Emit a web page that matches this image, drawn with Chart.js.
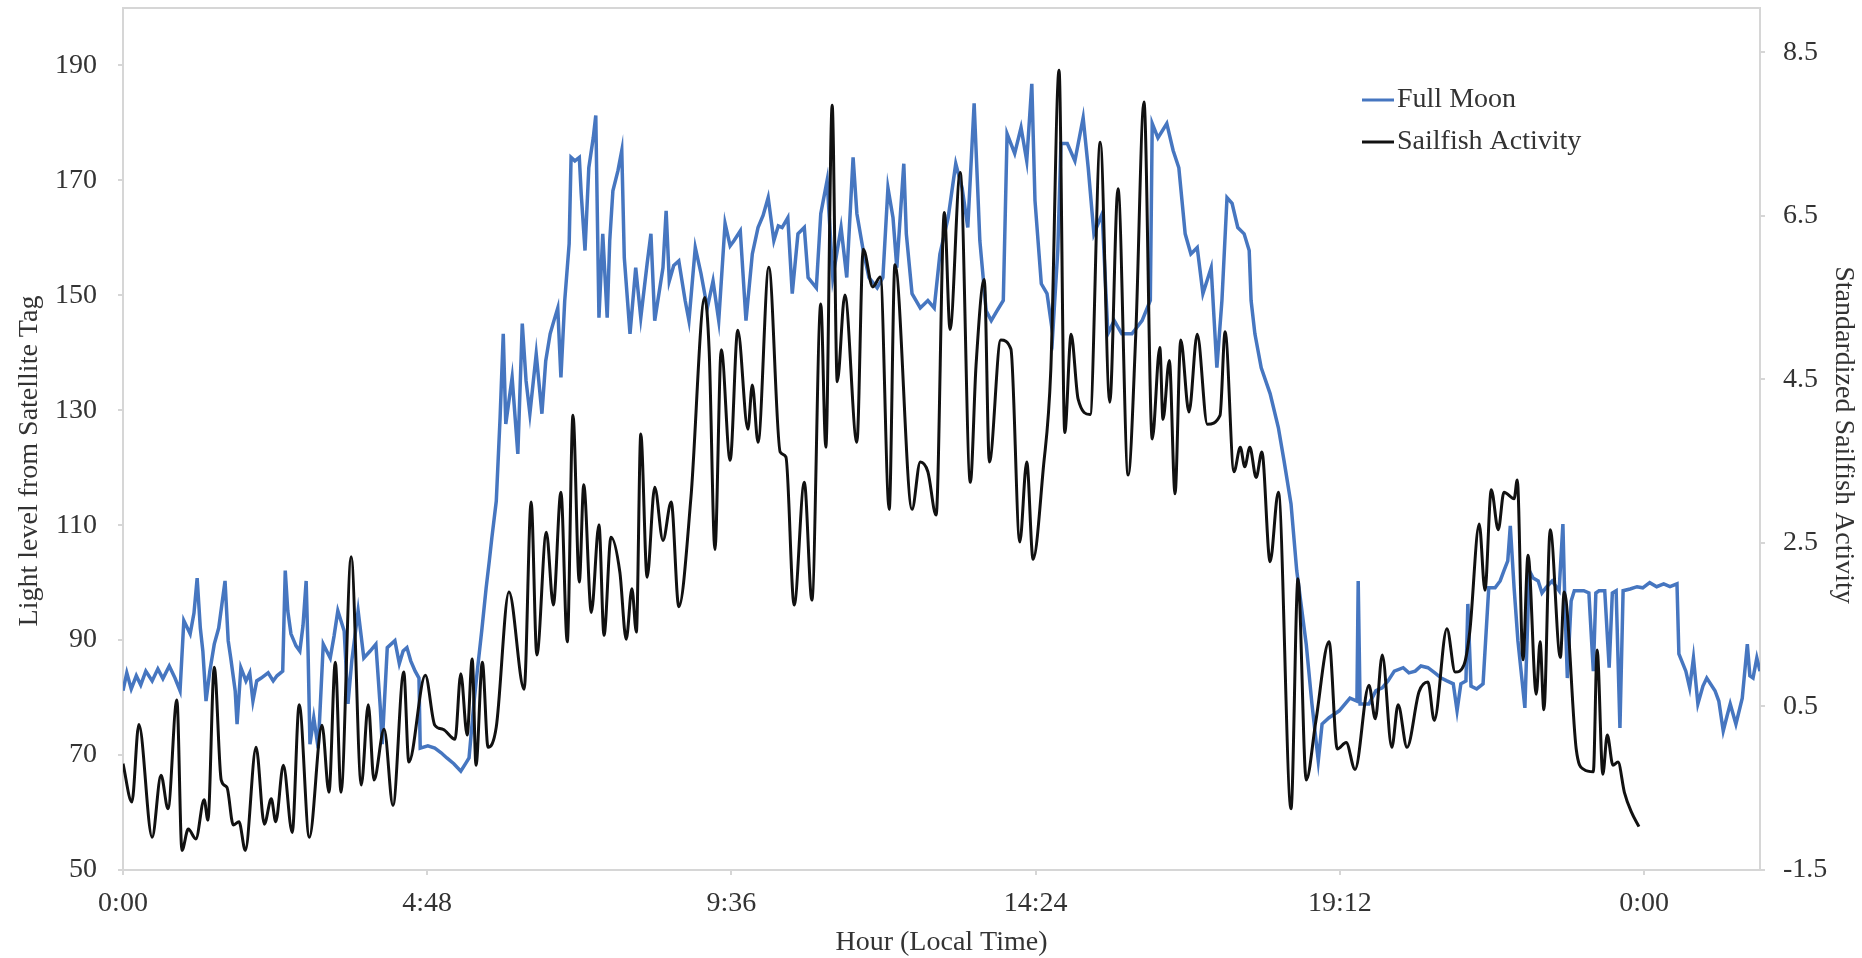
<!DOCTYPE html>
<html>
<head>
<meta charset="utf-8">
<title>Full Moon light level and sailfish activity</title>
<script src="https://cdn.jsdelivr.net/npm/chart.js@4.4.0/dist/chart.umd.min.js"></script>
<style>
  html, body { margin: 0; padding: 0; background: #fff; }
  #wrap { width: 1862px; height: 958px; position: relative; }
</style>
</head>
<body>
<div id="wrap"><canvas id="moonChart"></canvas></div>
<script>
// Full Moon: hours since midnight and light level from the satellite tag (left axis)
var moonHours = [
  0.00,0.06,0.13,0.21,0.28,0.36,0.46,0.55,0.63,0.73,
  0.82,0.90,0.96,1.06,1.12,1.17,1.22,1.26,1.31,1.37,
  1.44,1.51,1.61,1.66,1.70,1.77,1.80,1.86,1.94,2.00,
  2.05,2.11,2.18,2.29,2.37,2.43,2.52,2.56,2.60,2.65,
  2.73,2.79,2.84,2.89,2.92,2.95,3.01,3.08,3.16,3.27,
  3.33,3.39,3.49,3.55,3.61,3.71,3.80,3.90,3.99,4.06,
  4.09,4.17,4.29,4.36,4.42,4.48,4.54,4.61,4.67,4.69,
  4.81,4.92,5.02,5.11,5.22,5.33,5.41,5.46,5.54,5.59,
  5.66,5.73,5.78,5.82,5.89,5.95,6.00,6.04,6.14,6.23,
  6.30,6.36,6.42,6.52,6.61,6.67,6.74,6.80,6.86,6.91,
  6.97,7.04,7.07,7.13,7.20,7.23,7.29,7.35,7.42,7.46,
  7.51,7.57,7.64,7.68,7.73,7.81,7.87,7.91,8.00,8.09,
  8.17,8.27,8.33,8.39,8.52,8.57,8.62,8.69,8.77,8.87,
  8.93,9.03,9.12,9.22,9.31,9.40,9.50,9.58,9.64,9.74,
  9.83,9.93,10.02,10.10,10.18,10.27,10.34,10.40,10.49,10.56,
  10.65,10.75,10.81,10.94,11.01,11.11,11.20,11.33,11.42,11.52,
  11.58,11.68,11.77,11.90,11.99,12.07,12.15,12.21,12.32,12.36,
  12.45,12.58,12.70,12.80,12.89,13.02,13.14,13.24,13.33,13.43,
  13.52,13.62,13.70,13.79,13.89,13.95,14.07,14.17,14.26,14.34,
  14.39,14.49,14.58,14.67,14.75,14.80,14.90,15.02,15.15,15.23,
  15.32,15.45,15.54,15.64,15.76,15.92,16.08,16.21,16.24,16.33,
  16.47,16.57,16.66,16.76,16.85,16.95,17.04,17.17,17.26,17.34,
  17.42,17.50,17.59,17.69,17.77,17.80,17.86,17.96,18.10,18.23,
  18.32,18.43,18.52,18.67,18.76,18.86,18.92,19.03,19.19,19.36,
  19.47,19.49,19.52,19.66,19.77,19.87,19.96,20.06,20.20,20.29,
  20.39,20.48,20.59,20.70,20.80,20.89,20.99,21.05,21.11,21.19,
  21.22,21.27,21.36,21.46,21.55,21.65,21.73,21.79,21.85,21.89,
  21.95,22.01,22.06,22.12,22.19,22.25,22.33,22.39,22.45,22.55,
  22.66,22.72,22.75,22.79,22.85,22.90,23.05,23.13,23.20,23.24,
  23.29,23.38,23.45,23.50,23.56,23.62,23.67,23.78,23.89,23.98,
  24.09,24.20,24.31,24.41,24.52,24.55,24.66,24.72,24.78,24.85,
  24.93,24.99,25.12,25.18,25.25,25.31,25.36,25.45,25.55,25.63,
  25.67,25.72,25.78,25.83
];
var moonLight = [
  81.2,84.3,81.5,83.8,82.2,84.6,82.9,85.0,83.3,85.5,
  83.4,81.2,93.4,91.1,94.7,100.8,92.1,88.1,79.4,84.6,
  89.3,92.1,100.3,89.9,86.9,81.2,75.4,85.2,82.9,84.3,
  79.4,82.9,83.4,84.3,82.9,83.8,84.6,102.1,95.1,91.1,
  89.0,88.1,92.5,100.3,88.1,71.9,76.5,71.2,89.3,86.9,
  90.7,95.1,91.6,78.9,86.4,95.1,86.9,88.1,89.3,78.2,
  71.9,88.7,89.9,85.9,88.1,88.7,86.4,84.6,83.4,71.2,
  71.6,71.2,70.4,69.5,68.5,67.2,68.6,69.5,79.4,84.6,
  91.6,99.1,103.8,107.8,114.2,128.7,143.3,127.6,135.7,122.4,
  145.1,135.1,129.4,139.8,129.4,138.6,143.3,145.6,147.8,135.7,
  149.1,159.0,174.0,173.4,174.0,167.7,157.8,172.2,177.4,181.3,
  146.1,160.7,146.1,159.5,168.2,171.7,175.2,156.5,143.3,154.8,
  146.1,155.5,160.7,145.6,154.8,164.7,152.5,155.2,156.0,149.1,
  145.6,158.3,153.8,147.8,152.5,145.6,162.5,158.6,159.5,161.2,
  145.6,157.2,161.8,163.9,167.0,159.5,162.1,161.8,163.5,150.3,
  160.7,161.8,153.1,151.3,164.2,170.0,153.1,161.8,153.1,174.0,
  164.2,157.8,153.1,151.3,153.1,168.7,163.5,154.8,172.9,160.7,
  150.3,147.8,149.1,147.8,157.2,163.5,172.9,168.7,161.8,183.4,
  159.5,147.3,145.6,147.3,149.1,178.1,174.7,179.2,173.4,186.8,
  166.5,152.0,150.3,143.3,157.8,176.4,176.4,173.4,180.9,172.2,
  160.7,164.2,143.3,145.6,143.3,143.3,145.6,149.1,179.9,177.4,
  179.9,175.2,172.2,160.7,157.2,158.3,150.3,154.8,137.4,149.1,
  167.0,166.0,161.8,160.7,157.8,149.1,143.3,137.4,132.9,127.0,
  121.2,113.7,102.1,89.3,78.9,69.0,75.4,76.5,77.7,79.9,
  79.4,100.3,78.9,78.9,81.2,81.7,82.9,84.6,85.2,84.3,
  84.6,85.5,85.2,84.3,83.4,82.9,82.4,77.7,82.4,82.9,
  96.3,82.0,81.5,82.4,99.1,99.1,100.3,102.1,103.8,109.9,
  99.1,89.9,84.6,78.2,102.1,100.8,100.3,98.2,99.1,100.3,
  98.6,110.2,96.8,83.4,96.8,98.6,98.6,98.2,84.6,98.2,
  98.6,98.6,85.2,98.2,98.6,74.7,98.6,98.9,99.3,99.1,
  100.0,99.3,99.8,99.3,99.8,87.6,84.6,81.7,86.9,78.9,
  82.0,83.4,81.2,79.4,74.2,76.8,78.9,75.4,79.9,89.3,
  83.8,83.4,86.9,84.6
];

// Sailfish: hours since midnight and standardized activity (right axis)
var fishHours = [
  0.00,0.14,0.25,0.46,0.60,0.71,0.85,0.93,1.03,1.15,
  1.28,1.34,1.44,1.55,1.64,1.74,1.83,1.93,2.10,2.23,
  2.34,2.41,2.53,2.67,2.78,2.94,3.14,3.25,3.35,3.44,
  3.60,3.76,3.87,3.96,4.12,4.26,4.43,4.51,4.77,4.92,
  5.05,5.24,5.33,5.43,5.51,5.57,5.67,5.76,5.89,6.09,
  6.33,6.44,6.53,6.68,6.79,6.91,7.01,7.10,7.20,7.27,
  7.39,7.51,7.59,7.70,7.84,7.94,8.03,8.10,8.17,8.27,
  8.39,8.52,8.65,8.77,8.96,9.18,9.25,9.34,9.44,9.58,
  9.70,9.86,9.93,10.02,10.19,10.37,10.46,10.59,10.75,10.87,
  11.01,11.09,11.19,11.27,11.39,11.58,11.68,11.83,11.95,12.09,
  12.18,12.45,12.58,12.70,12.83,12.96,13.05,13.21,13.37,13.46,
  13.59,13.67,13.85,14.01,14.15,14.26,14.36,14.52,14.64,14.77,
  14.86,14.96,15.07,15.26,15.42,15.57,15.70,15.86,15.98,16.11,
  16.24,16.36,16.41,16.51,16.60,16.69,16.82,16.95,17.11,17.31,
  17.39,17.53,17.63,17.70,17.78,17.88,17.97,18.10,18.23,18.43,
  18.54,18.67,18.82,19.03,19.16,19.30,19.44,19.66,19.76,19.87,
  20.02,20.12,20.26,20.45,20.59,20.69,20.89,21.02,21.16,21.25,
  21.40,21.49,21.59,21.70,21.79,21.95,22.00,22.09,22.17,22.30,
  22.36,22.42,22.52,22.68,22.74,22.93,23.05,23.20,23.26,23.35,
  23.42,23.51,23.59,23.69,23.80,23.92
];
var fishActivity = [
  -0.20,-0.67,0.28,-1.10,-0.34,-0.75,0.58,-1.26,-1.00,-1.12,
  -0.64,-0.89,0.98,-0.40,-0.49,-0.95,-0.91,-1.26,0.00,-0.94,
  -0.63,-0.91,-0.22,-1.04,0.52,-1.10,0.27,-0.55,1.04,-0.55,
  2.33,-0.46,0.52,-0.40,0.22,-0.71,0.92,-0.18,0.88,0.27,
  0.22,0.10,0.90,0.15,1.08,-0.22,1.04,0.00,0.25,1.90,
  0.71,3.00,1.13,2.63,1.74,3.12,1.29,4.06,2.02,3.21,
  1.65,2.72,1.37,2.57,2.14,1.32,1.94,1.41,3.83,2.08,
  3.18,2.53,3.00,1.72,3.04,5.50,4.83,2.42,4.86,3.51,
  5.10,3.89,4.43,3.73,5.87,3.61,3.55,1.74,3.24,1.80,
  5.42,3.67,7.85,4.47,5.53,3.73,6.09,5.63,5.75,2.91,
  5.90,2.91,3.49,3.37,2.84,6.54,5.11,7.03,3.24,4.67,
  5.72,3.49,4.98,4.87,2.51,3.49,2.30,3.40,4.62,8.28,
  3.85,5.05,4.26,4.07,7.40,4.22,6.83,3.33,5.04,7.89,
  3.77,4.89,4.01,4.73,3.10,4.98,4.10,5.05,3.95,4.06,
  5.08,3.37,3.67,3.43,3.67,3.30,3.61,2.27,3.12,-0.75,
  2.06,-0.40,0.31,1.29,-0.02,0.06,-0.27,0.76,0.35,1.13,
  0.00,0.52,0.00,0.68,0.80,0.33,1.45,0.92,1.01,1.41,
  2.73,1.92,3.15,2.66,3.12,3.04,3.27,1.07,2.35,0.65,
  1.29,0.46,2.66,1.10,1.90,-0.02,-0.27,-0.30,1.19,-0.33,
  0.15,-0.22,-0.18,-0.55,-0.79,-0.97
];

// axis ticks
var hourTicks = [0, 4.8, 9.6, 14.4, 19.2, 24];
var hourLabels = ['0:00', '4:48', '9:36', '14:24', '19:12', '0:00'];
var lightTicks = [50, 70, 90, 110, 130, 150, 170, 190];
var activityTicks = [-1.5, 0.5, 2.5, 4.5, 6.5, 8.5];

var seriesNames = ['Full Moon', 'Sailfish Activity'];
var seriesColors = ['#4676c0', '#111111'];

var textColor = '#333333';
var axisColor = '#d6d6d6';
var serif = "'Liberation Serif', 'Times New Roman', serif";
var tickFont = { family: serif, size: 28 };

function toPoints(xs, ys) {
  return xs.map(function(x, i) { return { x: x, y: ys[i] }; });
}

function setTicks(list) {
  return function(scale) {
    scale.ticks = list.map(function(v) { return { value: v }; });
  };
}

// axis titles, legend and the top frame line
var chartExtras = {
  id: 'chartExtras',
  afterDraw: function(chart) {
    var ctx = chart.ctx;
    var area = chart.chartArea;
    ctx.save();

    ctx.strokeStyle = axisColor;
    ctx.lineWidth = 2;
    ctx.beginPath();
    ctx.moveTo(area.left, area.top);
    ctx.lineTo(area.right, area.top);
    ctx.stroke();

    ctx.fillStyle = textColor;
    ctx.font = '28px ' + serif;
    ctx.textAlign = 'center';
    ctx.textBaseline = 'middle';

    ctx.fillText('Hour (Local Time)', (area.left + area.right) / 2, 943);

    ctx.save();
    ctx.translate(30, 461);
    ctx.rotate(-Math.PI / 2);
    ctx.fillText('Light level from Satellite Tag', 0, 0);
    ctx.restore();

    ctx.save();
    ctx.translate(1843, 435);
    ctx.rotate(Math.PI / 2);
    ctx.fillText('Standardized Sailfish Activity', 0, 0);
    ctx.restore();

    // legend
    ctx.textAlign = 'left';
    var lx = 1362, ly = 100;
    seriesNames.forEach(function(name, i) {
      var y = ly + i * 42;
      ctx.strokeStyle = seriesColors[i];
      ctx.lineWidth = 3;
      ctx.beginPath();
      ctx.moveTo(lx, y);
      ctx.lineTo(lx + 32, y);
      ctx.stroke();
      ctx.fillStyle = textColor;
      ctx.fillText(name, lx + 35, y);
    });

    ctx.restore();
  }
};

var ctx = document.getElementById('moonChart').getContext('2d');
var chart = new Chart(ctx, {
  type: 'line',
  data: {
    datasets: [{
      label: seriesNames[0],
      data: toPoints(moonHours, moonLight),
      yAxisID: 'y',
      borderColor: seriesColors[0],
      borderWidth: 3.5,
      pointRadius: 0,
      tension: 0,
      order: 1
    }, {
      label: seriesNames[1],
      data: toPoints(fishHours, fishActivity),
      yAxisID: 'y1',
      borderColor: seriesColors[1],
      borderWidth: 3,
      pointRadius: 0,
      cubicInterpolationMode: 'monotone',
      order: 0
    }]
  },
  options: {
    responsive: true,
    maintainAspectRatio: false,
    animation: false,
    layout: { padding: { top: 8, left: 0, right: 0, bottom: 0 } },
    plugins: {
      legend: { display: false },
      tooltip: { enabled: false }
    },
    scales: {
      x: {
        type: 'linear',
        min: 0,
        max: 25.83,
        afterBuildTicks: setTicks(hourTicks),
        afterFit: function(s) { s.height = 88; s.paddingLeft = 0; s.paddingRight = 0; },
        ticks: {
          autoSkip: false,
          maxRotation: 0,
          padding: 12,
          color: textColor,
          font: tickFont,
          callback: function(v, i) { return hourLabels[i]; }
        },
        grid: { drawOnChartArea: false, tickLength: 5, color: axisColor, lineWidth: 2 },
        border: { color: axisColor, width: 2 }
      },
      y: {
        position: 'left',
        min: 50,
        max: 200,
        afterBuildTicks: setTicks(lightTicks),
        afterFit: function(s) { s.width = 123; s.paddingTop = 0; s.paddingBottom = 0; },
        ticks: {
          padding: 21,
          color: textColor,
          font: tickFont,
          callback: function(v, i) { return String(lightTicks[i]); }
        },
        grid: { drawOnChartArea: false, tickLength: 5, color: axisColor, lineWidth: 2 },
        border: { color: axisColor, width: 2 }
      },
      y1: {
        position: 'right',
        min: -1.5,
        max: 9.04,
        afterBuildTicks: setTicks(activityTicks),
        afterFit: function(s) { s.width = 102; s.paddingTop = 0; s.paddingBottom = 0; },
        ticks: {
          padding: 18,
          color: textColor,
          font: tickFont,
          callback: function(v, i) { return activityTicks[i].toFixed(1); }
        },
        grid: { drawOnChartArea: false, tickLength: 5, color: axisColor, lineWidth: 2 },
        border: { color: axisColor, width: 2 }
      }
    }
  },
  plugins: [chartExtras]
});
</script>
</body>
</html>
